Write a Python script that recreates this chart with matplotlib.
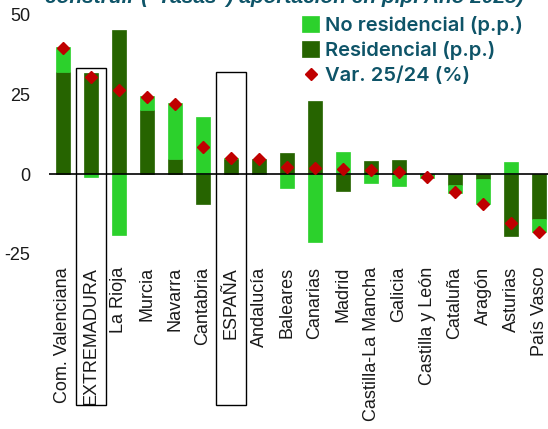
import numpy as np
import matplotlib as mpl
import matplotlib.pyplot as plt
from matplotlib.patches import Rectangle

mpl.rcParams['font.family'] = ['Liberation Sans', 'DejaVu Sans']
mpl.rcParams['axes.unicode_minus'] = False

# datos
regiones = ['Com. Valenciana', 'EXTREMADURA', 'La Rioja', 'Murcia', 'Navarra',
            'Cantabria', 'ESPAÑA', 'Andalucía', 'Baleares', 'Canarias', 'Madrid',
            'Castilla-La Mancha', 'Galicia', 'Castilla y León', 'Cataluña',
            'Aragón', 'Asturias', 'País Vasco']
residencial = [32.0, 31.7, 45.3, 20.0, 4.7, -9.4, 4.8, 4.7, 6.5, 23.0, -5.4,
               4.0, 4.3, -0.4, -3.4, -1.5, -19.6, -14.1]
no_residencial = [8.0, -1.0, -19.0, 4.4, 17.5, 17.8, 0.2, 0.0, -4.4, -21.2, 6.8,
                  -2.7, -3.8, -0.7, -2.5, -8.0, 3.9, -4.0]
variacion = [39.5, 30.6, 26.3, 24.2, 22.0, 8.4, 5.1, 4.7, 2.3, 2.0, 1.5,
             1.3, 0.6, -1.0, -5.7, -9.3, -15.5, -18.2]
resaltadas = ['EXTREMADURA', 'ESPAÑA']
caja_top = [33.2, 32.1]

c_res = '#266400'
c_nores = '#2cd12c'
c_var = '#c00000'
c_txt = '#0e5468'

fig = plt.figure(figsize=(5.48, 4.29), dpi=100)
ax = fig.add_axes([0.0894, 0.394, 0.9106, 0.606])

x = np.arange(len(regiones))
res = np.array(residencial)
nores = np.array(no_residencial)
# apilado divergente: positivos hacia arriba, negativos hacia abajo
bot_nores = np.where(np.sign(nores) == np.sign(res), res, 0)

b_res = ax.bar(x, res, width=0.5, color=c_res, edgecolor=c_res, lw=0.5, zorder=2)
b_nores = ax.bar(x, nores, bottom=bot_nores, width=0.5, color=c_nores,
                 edgecolor=c_nores, lw=0.5, zorder=2)
l_var, = ax.plot(x, variacion, 'D', color=c_var, ms=6.3, lw=0, zorder=4)
ax.axhline(0, color='black', lw=1.2, zorder=3)

ax.set_xlim(-0.5, 17.32)
ax.set_ylim(-27, 54.7)
ax.set_yticks([-25, 0, 25, 50])
ax.set_xticks(x)
ax.set_xticklabels(regiones, rotation=90)
ax.tick_params(length=0, labelsize=13, colors='#1a1a1a')
ax.tick_params(axis='x', pad=5)
ax.tick_params(axis='y', pad=13.5)
for s in ax.spines.values():
    s.set_visible(False)

for r, top in zip(resaltadas, caja_top):
    i = regiones.index(r)
    ax.add_patch(Rectangle((i - 0.55, -72.6), 1.1, top + 72.6, fill=False,
                           edgecolor='black', lw=1, clip_on=False, zorder=5))

leg = ax.legend([b_nores, b_res, l_var],
                ['No residencial (p.p.)', 'Residencial (p.p.)', 'Var. 25/24 (%)'],
                loc='upper left', bbox_to_anchor=(0.552, 0.963),
                bbox_transform=fig.transFigure,
                frameon=False, borderpad=0, borderaxespad=0, handlelength=0.8,
                handleheight=0.8, handletextpad=0.3, labelspacing=0.31,
                prop={'family': 'Inter', 'weight': 'semibold', 'size': 14.5})
for t in leg.get_texts():
    t.set_color(c_txt)

fig.text(0.082, 1 - 3 / 429, 'construir ("Tasas") aportación en p.p. Año 2025)',
         fontsize=15, fontweight='bold', fontstyle='italic', color=c_txt,
         va='baseline', ha='left')

fig.savefig('out.png', dpi=100)
